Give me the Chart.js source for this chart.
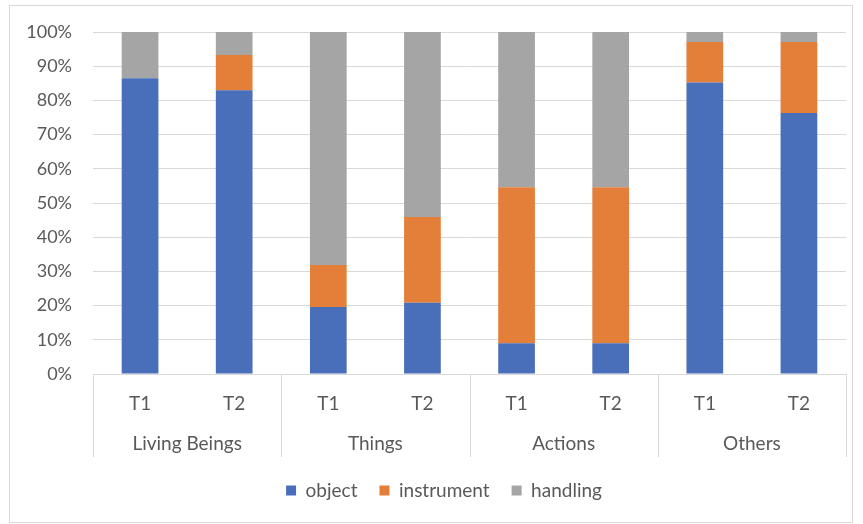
<!DOCTYPE html>
<html>
<head>
<meta charset="utf-8">
<script src="https://cdn.jsdelivr.net/npm/chart.js@4.4.1/dist/chart.umd.min.js"></script>
<style>
  html, body { margin: 0; padding: 0; background: #ffffff; }
  canvas { display: block; }
</style>
</head>
<body>
<canvas id="chart" width="863" height="524"></canvas>
<script>
// Category groups and the two time points within each group
const groups = ['Living Beings', 'Things', 'Actions', 'Others'];
const periods = ['T1', 'T2'];

// Share of each response type (percent), in order LB-T1, LB-T2, Th-T1, Th-T2, Ac-T1, Ac-T2, Ot-T1, Ot-T2
const objectShare     = [86.5, 83.0, 19.6, 20.8,  9.0,  9.0, 85.2, 76.3];
const instrumentShare = [ 0.0, 10.3, 12.3, 25.1, 45.6, 45.6, 11.9, 20.8];
const handlingShare   = [13.5,  6.7, 68.1, 54.1, 45.4, 45.4,  2.9,  2.9];

// Y axis tick values (percent)
const yTicks = [0, 10, 20, 30, 40, 50, 60, 70, 80, 90, 100];

const labels = [];
groups.forEach(() => periods.forEach(p => labels.push(p)));

const FONT = 'Lato, "Open Sans", sans-serif';
const TEXT = '#595959';
const LINE = '#d9d9d9';
const GROUP_ROW = 83; // height of the two-level category axis

// Draws the outer frame, the group separators and the group names under the T1/T2 row
const groupAxis = {
  id: 'groupAxis',
  afterLayout(chart) {
    // nudge the legend a little right and down
    const lg = chart.legend;
    if (lg) {
      lg.left += 21; lg.right += 21;
      lg.top += 2; lg.bottom += 2;
    }
  },
  afterDraw(chart) {
    const ctx = chart.ctx;
    const x = chart.scales.x;
    const area = chart.chartArea;
    ctx.save();
    ctx.strokeStyle = LINE;
    ctx.lineWidth = 1;
    ctx.strokeRect(9.5, 5.5, 843, 517);

    const per = periods.length;
    const bounds = [];
    for (let g = 0; g <= groups.length; g++) {
      let px;
      if (g === 0) px = area.left;
      else if (g === groups.length) px = area.right;
      else px = (x.getPixelForValue(g * per - 1) + x.getPixelForValue(g * per)) / 2;
      bounds.push(px);
    }
    ctx.beginPath();
    bounds.forEach(px => {
      const xx = Math.round(px) + 0.5;
      ctx.moveTo(xx, area.bottom);
      ctx.lineTo(xx, area.bottom + GROUP_ROW);
    });
    ctx.stroke();

    ctx.fillStyle = TEXT;
    ctx.font = '19px ' + FONT;
    ctx.textAlign = 'center';
    ctx.textBaseline = 'middle';
    groups.forEach((name, g) => {
      ctx.fillText(name, (bounds[g] + bounds[g + 1]) / 2, area.bottom + 70);
    });
    ctx.restore();
  }
};

new Chart(document.getElementById('chart'), {
  type: 'bar',
  data: {
    labels: labels,
    datasets: [
      { label: 'object',     data: objectShare,     backgroundColor: '#4a6fba' },
      { label: 'instrument', data: instrumentShare, backgroundColor: '#e47f3a' },
      { label: 'handling',   data: handlingShare,   backgroundColor: '#a5a5a5' }
    ]
  },
  options: {
    responsive: false,
    animation: false,
    layout: { padding: { top: 32, right: 17, left: 0, bottom: 16 } },
    datasets: {
      bar: { categoryPercentage: 1, barPercentage: 0.39, borderWidth: 0 }
    },
    scales: {
      x: {
        stacked: true,
        grid: { display: false, drawTicks: false },
        border: { display: true, color: LINE, width: 1 },
        ticks: { color: TEXT, font: { family: FONT, size: 19 }, padding: 18, maxRotation: 0 },
        afterFit(scale) { scale.height = GROUP_ROW; }
      },
      y: {
        stacked: true,
        min: 0,
        max: 100,
        afterBuildTicks(scale) { scale.ticks = yTicks.map(v => ({ value: v })); },
        grid: { color: LINE, drawTicks: false },
        border: { display: false },
        ticks: {
          color: TEXT,
          font: { family: FONT, size: 18 },
          padding: 21,
          callback: v => v + '%'
        },
        afterFit(scale) { scale.width = 93; }
      }
    },
    plugins: {
      legend: {
        position: 'bottom',
        labels: {
          color: TEXT,
          font: { family: FONT, size: 19 },
          boxWidth: 10,
          boxHeight: 10,
          padding: 22
        }
      },
      tooltip: { enabled: false }
    }
  },
  plugins: [groupAxis]
});
</script>
</body>
</html>
